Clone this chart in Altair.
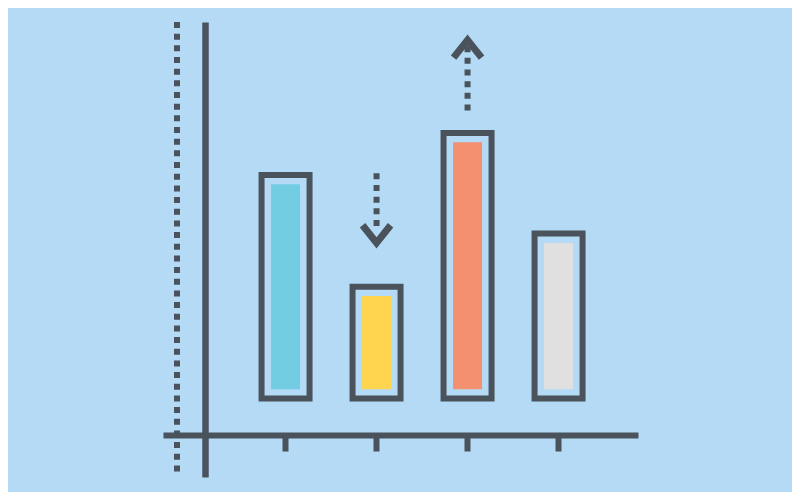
import altair as alt
import pandas as pd

# ---- data ----
categories = ["A", "B", "C", "D"]
bar_values = [66.4, 41.8, 75.6, 53.5]
bar_base = [17.25, 17.25, 17.25, 17.25]
fill_colors = ["#72CDE2", "#FFD54F", "#F48F70", "#E0E0E0"]

arrow_categories = ["B", "C"]
arrow_direction = ["down", "up"]
arrow_tail = [66.75, 80.55]
arrow_end = [55.05, 94.7]
arrow_head = [53.4, 94.1]

DARK = "#4A535C"
BG = "#B4DAF6"

bars = pd.DataFrame({
    "category": categories,
    "value": bar_values,
    "base": bar_base,
    "fillc": fill_colors,
})
arrows = pd.DataFrame({
    "category": arrow_categories,
    "direction": arrow_direction,
    "tail": arrow_tail,
    "end": arrow_end,
    "head": arrow_head,
})
guide = pd.DataFrame({"k": [0]})

x_scale = alt.Scale(domain=categories, paddingInner=0.4725, paddingOuter=0.846, align=0.64)
y_scale = alt.Scale(domain=[0, 100], nice=False, zero=False)

x_axis = alt.Axis(labels=False, title=None, grid=False, ticks=True, tickSize=16,
                  tickWidth=6, tickColor=DARK, domainColor=DARK, domainWidth=6,
                  offset=-42, bandPosition=0.5, tickCap="butt", domainCap="butt")
y_axis = alt.Axis(labels=False, title=None, grid=False, ticks=False,
                  domainColor=DARK, domainWidth=6.5, offset=-42, domainCap="butt")

X = alt.X("category:N", scale=x_scale, axis=x_axis)
Xc = alt.X("category:N", scale=x_scale, axis=x_axis, bandPosition=0.5)

fills = alt.Chart(bars).mark_bar(width=29, yOffset=9.3, y2Offset=-9.3).encode(
    x=X,
    y=alt.Y("value:Q", scale=y_scale, axis=y_axis),
    y2="base:Q",
    color=alt.Color("fillc:N", scale=None),
)

outlines = alt.Chart(bars).mark_bar(filled=False, color=DARK, strokeWidth=6,
                                    strokeJoin="miter").encode(
    x=X,
    y=alt.Y("value:Q", scale=y_scale, axis=y_axis),
    y2="base:Q",
)

shafts = alt.Chart(arrows).mark_rule(color=DARK, strokeWidth=6, strokeDash=[6, 5.67],
                                     strokeCap="butt").encode(
    x=Xc,
    y=alt.Y("tail:Q", scale=y_scale, axis=y_axis),
    y2="end:Q",
)

heads = alt.Chart(arrows).mark_point(filled=False, size=784, color=DARK, strokeWidth=7,
                                     strokeJoin="miter", strokeCap="butt",
                                     opacity=1).encode(
    x=Xc,
    y=alt.Y("head:Q", scale=y_scale, axis=y_axis),
    shape=alt.Shape("direction:N", legend=None,
                    scale=alt.Scale(domain=["down", "up"],
                                    range=["M-1,-0.63L0,0.63L1,-0.63",
                                           "M-1,0.63L0,-0.63L1,0.63"])),
)

dotted = alt.Chart(guide).mark_rule(color=DARK, strokeWidth=6, strokeDash=[6, 5.67],
                                    strokeCap="butt").encode(
    x=alt.value(14), y=alt.value(0), y2=alt.value(451)
)

chart = alt.layer(dotted, fills, outlines, shafts, heads).properties(
    width=475,
    height=455,
    padding={"left": 155, "top": 14, "right": 154, "bottom": 15},
    autosize=alt.AutoSizeParams(type="none"),
    background=BG,
).configure_view(strokeWidth=0)

chart.save("out.html", embed_options={"renderer": "svg", "actions": False})
